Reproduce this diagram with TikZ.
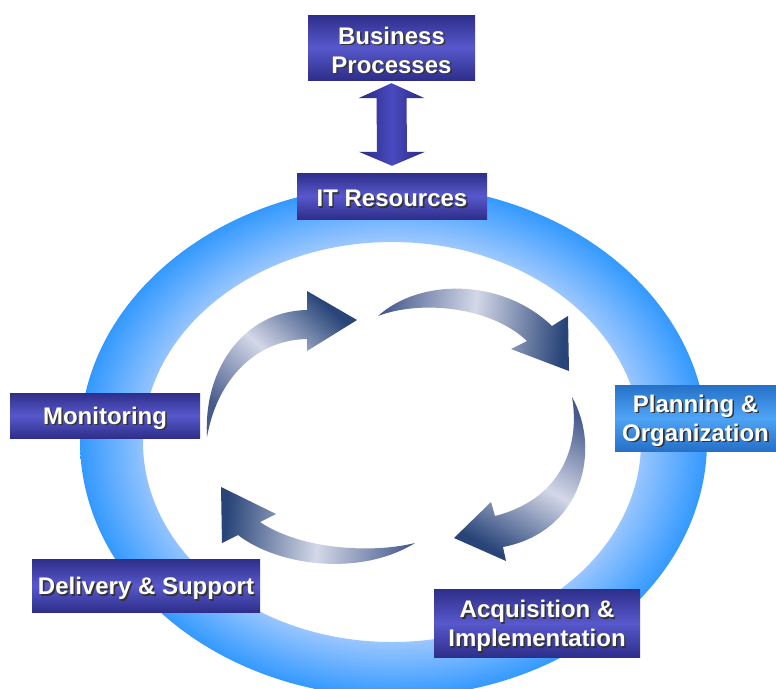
\documentclass[tikz,border=0pt]{standalone}
\usepackage{fontspec}
\setmainfont{Liberation Sans}
\usetikzlibrary{calc}
\definecolor{bxd}{RGB}{46,46,138}
\definecolor{bxl}{RGB}{88,88,204}
\definecolor{pld}{RGB}{38,112,200}
\definecolor{pll}{RGB}{78,164,246}
\definecolor{dad}{RGB}{40,40,128}
\definecolor{dal}{RGB}{74,74,192}
\definecolor{navy}{RGB}{40,68,120}
\definecolor{navytail}{RGB}{70,90,140}
\definecolor{arlight}{RGB}{212,216,232}
\definecolor{ringdark}{RGB}{51,153,255}
\definecolor{ringlight}{RGB}{158,200,255}
\pgfdeclareradialshading{ringsh}{\pgfpoint{0bp}{0bp}}{color(0bp)=(ringlight); color(19.4bp)=(ringlight); color(25bp)=(ringdark); color(50bp)=(ringdark)}
\newcommand\shd[1]{\makebox[0pt][l]{\kern1.6pt\raisebox{-1.6pt}{\textcolor{black!80}{#1}}}#1}
\tikzset{
  lbl/.style={inner sep=0pt, top color=bxd, bottom color=bxd, middle color=bxl},
  plbl/.style={lbl, top color=pld, bottom color=pld, middle color=pll},
  txt/.style={inner sep=0pt, text=white, align=center, yshift=-3.5pt,
    font=\fontsize{24}{29}\selectfont\bfseries},
  cyc/.style={top color=navytail, bottom color=navy, middle color=arlight}
}
\begin{document}
\begin{tikzpicture}[x=1pt,y=-1pt]
\useasboundingbox (0,0) rectangle (776,688);
\fill[white] (0,0) rectangle (776,688);
% ring
\shade[shading=ringsh, even odd rule]
  (393.5,441) ellipse [x radius=313.5, y radius=256]
  (392,442) ellipse [x radius=249, y radius=200];
% cycle arrows
\shade[cyc, shading angle=138]
  (207,437) .. controls (203,368) and (245,311) .. (307,310) -- (307,291) -- (357,320) -- (307,351) -- (307,339)
  .. controls (255,340) and (217,380) .. (207,437) -- cycle;
\shade[cyc, shading angle=84]
  (378,316) .. controls (420,278) and (502,278) .. (552,326) -- (568,316) -- (569,371) -- (511,349) -- (527,341)
  .. controls (490,306) and (420,300) .. (378,316) -- cycle;
\shade[cyc, shading angle=-29]
  (572,397) .. controls (602,450) and (582,532) .. (503,547) -- (506,561) -- (454,538) -- (491,502) -- (495,516)
  .. controls (558,500) and (581,450) .. (572,397) -- cycle;
\shade[cyc, shading angle=-95]
  (415,543) .. controls (360,577) and (278,566) .. (238,535) -- (222,543) -- (221,487) -- (276,514) -- (260,522)
  .. controls (300,549) and (370,554) .. (415,543) -- cycle;
% boxes
\node[lbl, minimum width=167, minimum height=65,
  label={[txt]center:{\shd{Business}\\\shd{Processes}}}] (bp) at (391.5,47.5) {};
\node[lbl, minimum width=190, minimum height=46,
  label={[txt]center:{\shd{IT Resources}}}] (it) at (392,196) {};
\node[lbl, minimum width=190, minimum height=45,
  label={[txt]center:{\shd{Monitoring}}}] (mon) at (105,415.5) {};
\node[plbl, minimum width=161, minimum height=66,
  label={[txt]center:{\shd{Planning \&}\\\shd{Organization}}}] (plan) at (695.5,418) {};
\node[lbl, minimum width=228, minimum height=53,
  label={[txt]center:{\shd{Delivery \& Support}}}] (del) at (146,585.5) {};
\node[lbl, minimum width=206, minimum height=68,
  label={[txt]center:{\shd{Acquisition \&}\\\shd{Implementation}}}] (acq) at (537,623) {};
% double arrow
\coordinate (ua) at ($(bp.south)+(0,3)$);
\coordinate (da) at ($(it.north)+(0,-7)$);
\shade[left color=dad, right color=dad, middle color=dal]
  (ua) -- ($(ua)+(33,15)$) -- ($(ua)+(15,15)$) -- ($(da)+(15,-14)$) -- ($(da)+(33,-14)$) -- (da)
  -- ($(da)+(-33,-14)$) -- ($(da)+(-15,-14)$) -- ($(ua)+(-15,15)$) -- ($(ua)+(-33,15)$) -- cycle;
\end{tikzpicture}
\end{document}
